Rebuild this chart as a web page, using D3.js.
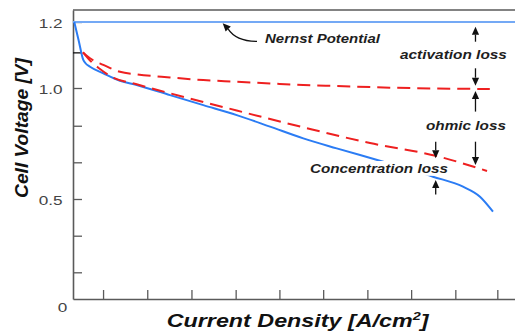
<!DOCTYPE html>
<html><head><meta charset="utf-8">
<script src="https://cdn.jsdelivr.net/npm/d3@7"></script>
<style>body{margin:0;background:#fff}svg{display:block}</style>
</head><body>
<svg id="c" width="515" height="332"></svg>
<script>
// ---- data ----
const nernstX = [0, 1];
const nernstV = [1.2, 1.2];
const polX = [0.0029,0.0127,0.0233,0.0283,0.0385,0.0686,0.1063,0.144,0.2195,0.2948,0.3704,0.4457,0.521,0.5966,0.702,0.8145,0.8824,0.9208,0.9502];
const polV = [1.2,1.145,1.085,1.075,1.0645,1.0445,1.022,1.009,0.968,0.923,0.878,0.826,0.773,0.728,0.668,0.6005,0.5554,0.5104,0.4365];
const actX = [0.0226,0.0385,0.0686,0.1063,0.144,0.2195,0.2948,0.3704,0.4457,0.521,0.5966,0.717,0.943];
const actV = [1.108,1.09,1.07,1.049,1.0415,1.032,1.024,1.019,1.014,1.009,1.006,1.001,0.9955];
const ohmX = [0.0226,0.0385,0.0611,0.0837,0.144,0.2195,0.3704,0.521,0.672,0.8228,0.9367];
const ohmV = [1.108,1.0833,1.0576,1.0364,1.0112,0.9761,0.8986,0.823,0.752,0.6937,0.6261];
const yLabelTicks = [0.5, 1.0, 1.2];
const yLabelText = ["0.5", "1.0", "1.2"];
const yMinorTicks = [0.1335, 0.3165, 0.6653, 0.830, 1.108];
const xTicks = [0.068,0.168,0.268,0.368,0.467,0.566,0.666,0.765,0.865,0.96];
const annLabels = ["Nernst Potential", "activation loss", "ohmic loss", "Concentration loss"];
const xTitle = ["Current Density [A/cm", "2", "]"];
const yTitle = "Cell Voltage [V]";

// ---- scales ----
const svg = d3.select("#c");
const x = d3.scaleLinear().domain([0, 1]).range([73, 515]);
const y = d3.scaleLinear().domain([0, 0.5, 1.0, 1.2, 1.236]).range([299, 199, 88, 22, 10]);
const FONT = "'Liberation Sans', Arial, sans-serif";
const AXC = "#5a5a5a";

// ---- axes ----
const yAx = svg.append("g").attr("transform", `translate(${x(0)},0)`)
  .call(d3.axisLeft(y).tickValues(yMinorTicks.concat(yLabelTicks)).tickSizeInner(-9).tickSizeOuter(0).tickFormat(""));
const xAx = svg.append("g").attr("transform", `translate(0,${y(0)})`)
  .call(d3.axisBottom(x).tickValues(xTicks).tickSizeInner(-9).tickSizeOuter(0).tickFormat(""));
[yAx, xAx].forEach(g => {
  g.select(".domain").attr("stroke", AXC).attr("stroke-width", 1.6);
  g.selectAll(".tick line").attr("stroke", AXC).attr("stroke-width", 1.3);
});
yAx.selectAll(".tick").filter(d => d === 1.108).select("line").attr("stroke", "#111");
svg.append("line").attr("x1", x(0)).attr("x2", x(1)).attr("y1", y(1.236)).attr("y2", y(1.236))
  .attr("stroke", AXC).attr("stroke-width", 1.6);

function placeText(str, ax, ay, opts) {
  const t = svg.append("text").attr("x", 0).attr("y", 0)
    .attr("font-family", FONT).attr("font-size", opts.size)
    .attr("font-weight", opts.weight || "normal").attr("font-style", opts.style || "normal")
    .attr("fill", opts.fill || "#1a1a1a").attr("text-anchor", opts.anchor || "start")
    .attr("dominant-baseline", opts.baseline || "alphabetic");
  if (Array.isArray(str)) {
    t.append("tspan").text(str[0]);
    t.append("tspan").attr("dy", -7).attr("font-size", opts.size * 0.62).text(str[1]);
    t.append("tspan").attr("dy", 7).text(str[2]);
  } else t.text(str);
  let sx = opts.sx || 1;
  if (opts.width) sx = opts.width / t.node().getComputedTextLength();
  t.attr("transform", `translate(${ax},${ay}) ${opts.rotate ? "rotate(" + opts.rotate + ")" : ""} scale(${sx},1)`);
  return t;
}

// tick labels
yLabelTicks.forEach((v, i) => placeText(yLabelText[i], x(0) - 10.5, y(v) + 1.5,
  {size: 13, anchor: "end", baseline: "central", fill: "#444", sx: 1.32}));
placeText("0", x(0) - 10.5, y(0) + 8, {size: 13, anchor: "middle", baseline: "central", fill: "#444", sx: 1.32});

// ---- lines ----
const line = d3.line().x(d => x(d[0])).y(d => y(d[1])).curve(d3.curveMonotoneX);
svg.append("path").attr("d", line(d3.zip(nernstX, nernstV))).attr("fill", "none")
  .attr("stroke", "#74a9f5").attr("stroke-width", 2);
svg.append("path").attr("d", line(d3.zip(polX, polV))).attr("fill", "none")
  .attr("stroke", "#2b7cf4").attr("stroke-width", 2);
svg.append("path").attr("d", line(d3.zip(actX, actV))).attr("fill", "none")
  .attr("stroke", "#ee2020").attr("stroke-width", 2).attr("stroke-dasharray", "13,7");
svg.append("path").attr("d", line(d3.zip(ohmX, ohmV))).attr("fill", "none")
  .attr("stroke", "#ee2020").attr("stroke-width", 2).attr("stroke-dasharray", "13,7");

// ---- annotations ----
function arrowHead(tx, ty, dx, dy) {
  const L = Math.hypot(dx, dy), ux = dx / L, uy = dy / L, h = 8, w = 3.6;
  const bx = tx - ux * h, by = ty - uy * h;
  svg.append("path").attr("d", `M${tx},${ty}L${bx - uy * w},${by + ux * w}L${bx + uy * w},${by - ux * w}Z`).attr("fill", "#111");
  return [bx, by];
}
function arrow(xv, tailV, tipV) {
  const X = x(xv), y1 = y(tailV), y2 = y(tipV);
  const [bx, by] = arrowHead(X, y2, 0, y2 - y1);
  svg.append("line").attr("x1", X).attr("x2", bx).attr("y1", y1).attr("y2", by).attr("stroke", "#111").attr("stroke-width", 1.3);
}
// Nernst curved arrow
{
  const tip = [x(0.3387), y(1.196)], ctrl = [x(0.3688), y(1.142)], tail = [x(0.4163), y(1.141)];
  const [bx, by] = arrowHead(tip[0], tip[1], tip[0] - (ctrl[0] - 2), tip[1] - (ctrl[1] - 6));
  svg.append("path").attr("d", `M${tail[0]},${tail[1]}Q${ctrl[0]},${ctrl[1]} ${bx},${by}`)
    .attr("fill", "none").attr("stroke", "#111").attr("stroke-width", 1.3);
}
const bi = {size: 12.5, weight: "bold", style: "italic", fill: "#1e1e1e"};
placeText(annLabels[0], x(0.4344), y(1.1355), Object.assign({}, bi, {width: 115}));
placeText(annLabels[1], x(0.7398), y(1.0879), Object.assign({}, bi, {width: 107}));
placeText(annLabels[2], x(0.7986), y(0.8086), Object.assign({}, bi, {width: 80}));
// white backing for the concentration label
svg.append("rect").attr("x", x(0.5204)).attr("y", y(0.6712)).attr("width", x(0.8529) - x(0.5204))
  .attr("height", y(0.6045) - y(0.6712)).attr("fill", "#fff");
placeText(annLabels[3], x(0.5362), y(0.6158), Object.assign({}, bi, {width: 138}));

arrow(0.9106, 1.1403, 1.1858);
arrow(0.9106, 1.0597, 1.007);
arrow(0.9106, 0.8937, 0.9865);
arrow(0.9106, 0.7581, 0.6532);
arrow(0.8206, 0.7581, 0.6833);
arrow(0.8206, 0.52, 0.5856);

// ---- axis titles ----
placeText(xTitle, 166.7, 326.7, {size: 19, weight: "bold", style: "italic", fill: "#111", width: 262});
placeText(yTitle, 28, 128, {size: 19, weight: "bold", style: "italic", fill: "#111", anchor: "middle", rotate: -90, width: 140});
</script>
</body></html>
